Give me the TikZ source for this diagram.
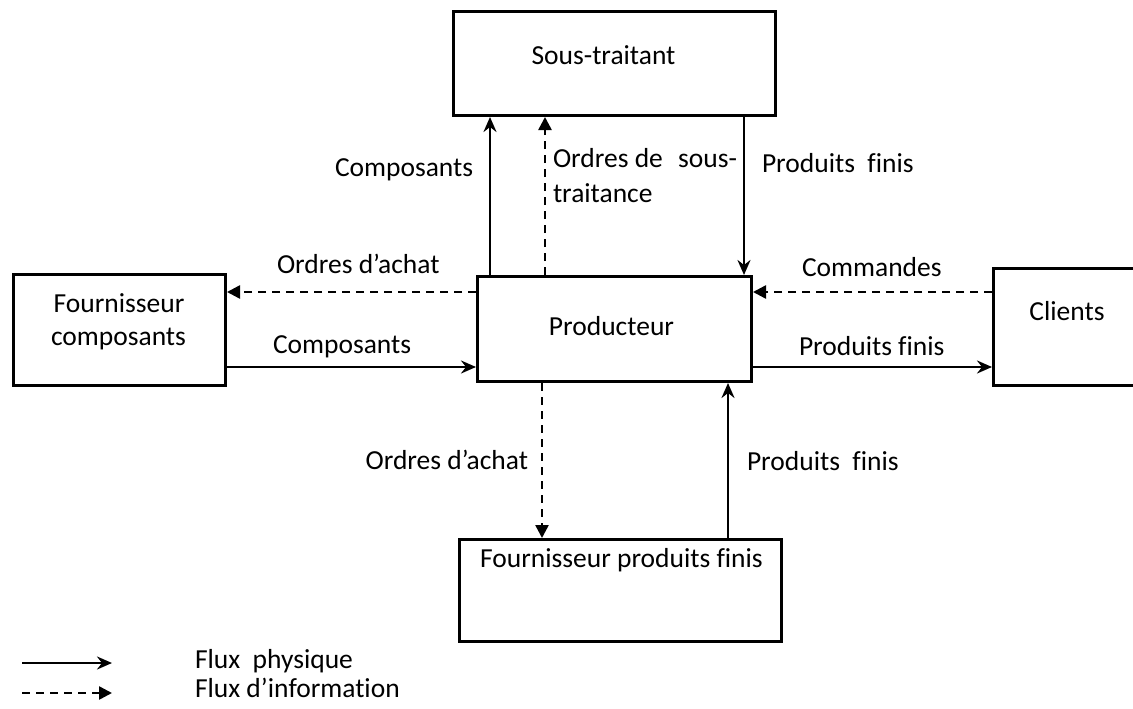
\documentclass[tikz,border=0pt]{standalone}
\usepackage{fontspec}
\setmainfont{Carlito}[Ligatures=NoCommon]
\usetikzlibrary{arrows.meta}
\begin{document}
\begin{tikzpicture}[x=1pt,y=-1pt,
  box/.style={draw, line width=3pt, inner sep=0pt},
  txt/.style={font=\fontsize{27.5}{33}\selectfont, inner sep=0pt, outer sep=0pt},
  phys/.style={draw, line width=2.5pt, -{Stealth[length=15pt,width=13pt,inset=5pt]}},
  info/.style={draw, line width=2.5pt, dash pattern=on 8pt off 6pt, -{Triangle[length=13pt,width=13pt]}}]
\path[use as bounding box, fill=white] (0,0) rectangle (1133,709);

% boxes
\node[box, minimum width=322pt, minimum height=104pt] (st) at (614.5,63.5) {};
\node[box, minimum width=274pt, minimum height=105pt] (prod) at (614.5,329) {};
\node[box, minimum width=212pt, minimum height=111pt] (fc) at (119.5,330) {};
\node[box, minimum width=145pt, minimum height=117pt] (cl) at (1066,327) {};
\node[box, minimum width=322pt, minimum height=102pt] (fpf) at (620.5,590.5) {};

% box texts
\node[txt, anchor=base] (tst) at (603.5,65) {Sous-traitant};
\node[txt, anchor=base] (tprod) at (611.5,335) {Producteur};
\node[txt, anchor=base] (tfc1) at (119,312) {Fournisseur};
\node[txt, anchor=base] (tfc2) at (118.5,345) {composants};
\node[txt, anchor=base] (tcl) at (1067,320) {Clients};
\node[txt, anchor=base] (tfpf) at (621.5,567) {Fournisseur produits finis};

% x / y reference coordinates
\coordinate (xa) at (490,0);
\coordinate (xb) at (545,0);
\coordinate (xc) at (744,0);
\coordinate (xd) at (542,0);
\coordinate (xe) at (728,0);
\coordinate (ya) at (0,292);
\coordinate (yb) at (0,367);

% connectors
\draw[phys] (prod.north -| xa) -- (st.south -| xa);
\draw[info] (prod.north -| xb) -- (st.south -| xb);
\draw[phys] (st.south -| xc) -- (prod.north -| xc);
\draw[info] (prod.west |- ya) -- (fc.east |- ya);
\draw[phys] (fc.east |- yb) -- (prod.west |- yb);
\draw[info] (cl.west |- ya) -- (prod.east |- ya);
\draw[phys] (prod.east |- yb) -- (cl.west |- yb);
\draw[info] (prod.south -| xd) -- (fpf.north -| xd);
\draw[phys] (fpf.north -| xe) -- (prod.south -| xe);

% connector labels
\node[txt, anchor=base west] (l1) at (335,176) {Composants};
\node[txt, anchor=base west] (l2a) at (553,167) {\makebox[184pt][l]{Ordres de\hfill sous-}};
\node[txt, anchor=base west] (l2b) at (553,202) {traitance};
\node[txt, anchor=base west] (l3) at (762,172) {Produits\ \ finis};
\node[txt, anchor=base west] (l4) at (277,273) {Ordres d’achat};
\node[txt, anchor=base west] (l5) at (273,353) {Composants};
\node[txt, anchor=base west] (l6) at (802,276) {Commandes};
\node[txt, anchor=base west] (l7) at (799,355) {Produits finis};
\node[txt, anchor=base east] (l8) at (528,469) {Ordres d’achat};
\node[txt, anchor=base west] (l9) at (747,470) {Produits\ \ finis};

% legend
\coordinate (lg1a) at (22,663);
\coordinate (lg1b) at (112,663);
\coordinate (lg2a) at (22,693);
\coordinate (lg2b) at (112,693);
\draw[phys] (lg1a) -- (lg1b);
\draw[info] (lg2a) -- (lg2b);
\node[txt, anchor=base west] (lt1) at (195,668) {Flux\ \ physique};
\node[txt, anchor=base west] (lt2) at (195,697) {Flux d’information};
\end{tikzpicture}
\end{document}
